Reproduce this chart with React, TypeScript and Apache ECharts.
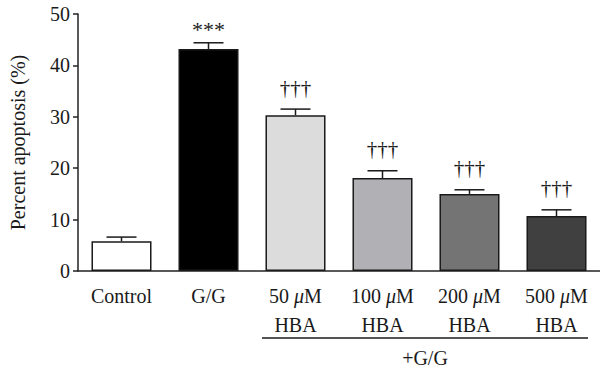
import React, { useEffect, useRef } from "react";
import * as echarts from "echarts";

const categories = ["Control", "G/G", "50 μM HBA", "100 μM HBA", "200 μM HBA", "500 μM HBA"];
const doses = ["", "", "50", "100", "200", "500"];
const means = [5.8, 43.2, 30.3, 18.1, 15.0, 10.7];
const upper = [6.6, 44.4, 31.5, 19.5, 15.8, 11.9];
const marks = ["", "***", "†††", "†††", "†††", "†††"];
const colors = ["#ffffff", "#000000", "#dcdcdc", "#b1b1b5", "#747474", "#404040"];
const yTicks = [0, 10, 20, 30, 40, 50];

const FONT = "'Liberation Serif', 'DejaVu Serif', serif";

export default function App() {
  const ref = useRef<HTMLDivElement>(null);
  useEffect(() => {
    if (!ref.current) return;
    const chart = echarts.init(ref.current, null, { renderer: "svg" });
    chart.setOption({
      animation: false,
      grid: { left: 67, right: 0, top: 14, bottom: 98 },
      xAxis: {
        type: "category",
        data: categories,
        axisLine: { lineStyle: { color: "#222", width: 1.5 } },
        axisTick: { alignWithLabel: true, length: 5, lineStyle: { color: "#222", width: 1.5 } },
        axisLabel: {
          margin: 10,
          interval: 0,
          formatter: (v: string, i: number) =>
            doses[i] ? `{n|${doses[i]} }{mu|μ}{n|M}\n{n|HBA}` : `{n|${v}}`,
          rich: {
            n: { fontFamily: FONT, fontSize: 20, color: "#1a1a1a", lineHeight: 29 },
            mu: { fontFamily: FONT, fontSize: 20, fontStyle: "italic", color: "#1a1a1a", lineHeight: 29 },
          },
        },
      },
      yAxis: {
        type: "value",
        min: yTicks[0],
        max: yTicks[yTicks.length - 1],
        interval: 10,
        name: "Percent apoptosis (%)",
        nameLocation: "middle",
        nameGap: 50,
        nameTextStyle: { fontFamily: FONT, fontSize: 20, color: "#1a1a1a" },
        splitLine: { show: false },
        axisLine: { show: true, lineStyle: { color: "#222", width: 1.5 } },
        axisTick: { show: true, length: 5, lineStyle: { color: "#222", width: 1.5 } },
        axisLabel: { fontFamily: FONT, fontSize: 20, color: "#1a1a1a", margin: 8 },
      },
      series: [
        {
          type: "bar",
          barWidth: "69%",
          data: means.map((v, i) => ({
            value: v,
            itemStyle: { color: colors[i], borderColor: "#1a1a1a", borderWidth: 1.5 },
          })),
          z: 2,
        },
        {
          type: "custom",
          z: 3,
          data: means.map((m, i) => [i, m, upper[i]]),
          renderItem: (params: any, api: any) => {
            const i = api.value(0);
            const base = api.coord([i, api.value(1)]);
            const top = api.coord([i, api.value(2)]);
            const half = 15;
            const children: any[] = [
              { type: "line", shape: { x1: base[0], y1: base[1], x2: top[0], y2: top[1] }, style: { stroke: "#1a1a1a", lineWidth: 1.5 } },
              { type: "line", shape: { x1: top[0] - half, y1: top[1], x2: top[0] + half, y2: top[1] }, style: { stroke: "#1a1a1a", lineWidth: 1.5 } },
            ];
            const t = marks[params.dataIndex];
            if (t) {
              children.push({
                type: "text",
                style: {
                  text: t,
                  x: top[0],
                  y: top[1] - (t === "***" ? 2 : 11),
                  align: "center",
                  verticalAlign: "bottom",
                  fontFamily: FONT,
                  fontSize: t === "***" ? 22 : 21,
                  fill: "#1a1a1a",
                },
              });
            }
            return { type: "group", children };
          },
        },
      ],
      graphic: [
        { type: "line", shape: { x1: 262, y1: 338, x2: 588, y2: 338 }, style: { stroke: "#1a1a1a", lineWidth: 1.5 } },
        {
          type: "text",
          x: 425,
          y: 358,
          style: { text: "+G/G", fontFamily: FONT, fontSize: 20, fill: "#1a1a1a", align: "center", verticalAlign: "middle" },
        },
      ],
    });
    return () => chart.dispose();
  }, []);
  return <div ref={ref} style={{ width: 600, height: 369, position: "absolute", left: 0, top: 0 }} />;
}
